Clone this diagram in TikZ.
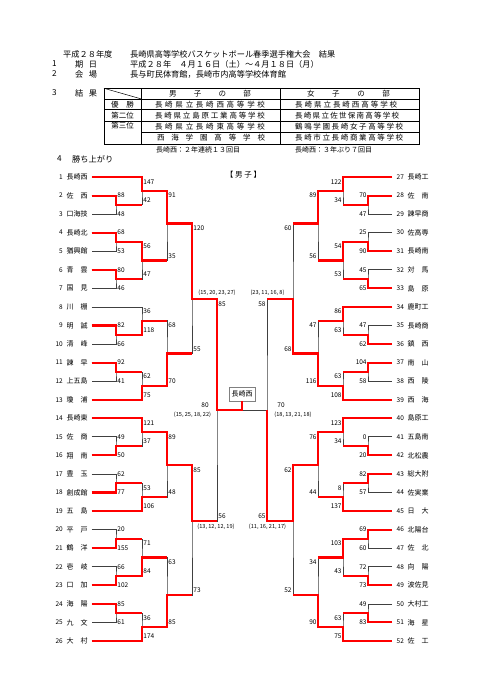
\documentclass[tikz,border=0pt]{standalone}
\usepackage{fontspec}
\setmainfont{Noto Sans CJK JP}
\usetikzlibrary{calc}
\usetikzlibrary{positioning}

% spread the characters of #2 over the width #1
\newcommand\spr[2]{\makebox[#1]{\sprA#2\relax}}
\def\sprA#1{#1\sprB}
\def\sprB#1{\ifx\relax#1\else\hfill#1\expandafter\sprB\fi}

% one game: anchor of scores, offset, upper entry, game point, lower entry, scores
\newcommand\bout[7]{%
  \draw[bracket] (#3) -| (#4) |- (#5);
  \node[score, anchor=#1] (#4-t) at ($(#4 |- #3)+(0,#2)$) {#6};
  \node[score, anchor=#1] (#4-b) at ($(#4 |- #5)-(0,#2)$) {#7};
}

\tikzset{
  bracket/.style={draw=black!75, line width=0.7pt},
  winner/.style={draw=red, line width=2.1pt},
  score/.style={font=\fontsize{6.5}{7}\selectfont, inner sep=1.2pt},
  quarter/.style={font=\fontsize{5.6}{6}\selectfont, inner sep=0pt},
  tname/.style={font=\fontsize{7}{8}\selectfont, inner sep=0pt, anchor=west},
  tnum/.style={font=\fontsize{6.5}{7}\selectfont, inner sep=0pt},
  head/.style={font=\fontsize{8.2}{9}\selectfont, inner sep=0pt, anchor=west},
  cell/.style={font=\fontsize{7.5}{8}\selectfont, inner sep=0pt},
  note/.style={font=\fontsize{7}{8}\selectfont, inner sep=0pt, anchor=west},
  tabthin/.style={draw=black, line width=0.5pt},
  tabthick/.style={draw=black, line width=0.9pt},
  champ/.style={draw=black!50, line width=0.6pt, fill=white, minimum width=26pt,
    minimum height=14pt, inner sep=0pt, font=\fontsize{7}{8}\selectfont},
}

\begin{document}
\begin{tikzpicture}[x=1pt, y=-1pt]
  \useasboundingbox (0,0) rectangle (481,680);

  % heading
  \node[head] (year)  at (63,54)  {平成２８年度};
  \node[head] (title) at (130,54) {長崎県高等学校バスケットボール春季選手権大会　結果};
  \node[head] (i1)  at (52,64) {1};
  \node[head] (i1t) at (75,64) {\spr{22pt}{期日}};
  \node[head] (date) at (130,64) {平成２８年　４月１６日（土）～４月１８日（月）};
  \node[head] (i2)  at (52,74) {2};
  \node[head] (i2t) at (75,74) {\spr{22pt}{会場}};
  \node[head] (venue) at (130,74) {長与町民体育館，長崎市内高等学校体育館};
  \node[head] (i3)  at (52,93) {3};
  \node[head] (i3t) at (75,93) {\spr{22pt}{結果}};

  % result table
  \draw[tabthin] (104,99) -- (419,99);
  \draw[tabthin] (104,109.5) -- (419,109.5);
  \draw[tabthin] (104,121) -- (419,121);
  \draw[tabthin] (141.5,132) -- (419,132);
  \draw[tabthin] (141.5,88.3) -- (141.5,144);
  \draw[tabthin] (104,88.3) -- (141.5,99);
  \draw[tabthick] (280,88.3) -- (280,144);
  \draw[tabthick] (104,88.3) rectangle (419,144);

  \node[cell] (hM) at (210,93.6)   {\spr{82pt}{男子の部}};
  \node[cell] (hW) at (348.5,93.6) {\spr{83pt}{女子の部}};
  \node[cell] (r1) at (122.5,104.3) {\spr{23pt}{優勝}};
  \node[cell] (r2) at (122.5,115.2) {第二位};
  \node[cell] (r3) at (122.5,126)   {第三位};
  \node[cell] (m1) at (210,104.3) {\spr{110pt}{長崎県立長崎西高等学校}};
  \node[cell] (m2) at (210,115.2) {\spr{110pt}{長崎県立島原工業高等学校}};
  \node[cell] (m3) at (210,126.5) {\spr{110pt}{長崎県立長崎東高等学校}};
  \node[cell] (m4) at (211,138)   {\spr{108pt}{西海学園高等学校}};
  \node[cell, anchor=west] (w1) at (295,104.3) {\spr{102pt}{長崎県立長崎西高等学校}};
  \node[cell, anchor=west] (w2) at (295,115.2) {\spr{104pt}{長崎県立佐世保南高等学校}};
  \node[cell, anchor=west] (w3) at (295,126.5) {\spr{108pt}{鶴鳴学園長崎女子高等学校}};
  \node[cell, anchor=west] (w4) at (295,138)   {\spr{108pt}{長崎市立長崎商業高等学校}};
  \node[note] (nM) at (156,149.5) {長崎西：２年連続１３回目};
  \node[note] (nW) at (295,149.5) {長崎西：３年ぶり７回目};

  \node[head] (i4)  at (57,159) {4};
  \node[head] (i4t) at (72,159) {勝ち上がり};
  \node[cell] (boys) at (243.5,175) {【 男 子 】};

  % teams
  \foreach \n/\t in {1/長崎西, 2/佐　西, 3/口海技, 4/長崎北, 5/猶興館, 6/青　雲,
      7/国　見, 8/川　棚, 9/明　誠, 10/清　峰, 11/諫　早, 12/上五島, 13/瓊　浦,
      14/長崎東, 15/佐　商, 16/翔　南, 17/豊　玉, 18/創成館, 19/五　島, 20/平　戸,
      21/鶴　洋, 22/壱　岐, 23/口　加, 24/海　陽, 25/九　文, 26/大　村} {
    \node[tnum, anchor=east] (n\n) at (63,{177+18.56*(\n-1)}) {\n};
    \node[tname] (t\n) at (66.5,{177+18.56*(\n-1)}) {\t};
    \coordinate (T\n) at (91.5,{177+18.56*(\n-1)});
  }
  \foreach \n/\t in {27/長崎工, 28/佐　南, 29/諫早商, 30/佐高専, 31/長崎南, 32/対　馬,
      33/島　原, 34/鹿町工, 35/長崎商, 36/鎮　西, 37/南　山, 38/西　陵, 39/西　海,
      40/島原工, 41/五島南, 42/北松農, 43/総大附, 44/佐実業, 45/日　大, 46/北陽台,
      47/佐　北, 48/向　陽, 49/波佐見, 50/大村工, 51/海　星, 52/佐　工} {
    \node[tnum, anchor=west] (n\n) at (396.5,{177+18.56*(\n-27)}) {\n};
    \node[tname] (t\n) at (407.5,{177+18.56*(\n-27)}) {\t};
    \coordinate (T\n) at (392,{177+18.56*(\n-27)});
  }

  % game points, left half
  \coordinate (a23)   at (116,204.84);
  \coordinate (a45)   at (116,241.96);
  \coordinate (a67)   at (116,279.08);
  \coordinate (a910)  at (116,334.76);
  \coordinate (a1112) at (116,371.88);
  \coordinate (a1516) at (116,446.12);
  \coordinate (a1718) at (116,483.24);
  \coordinate (a2021) at (116,538.92);
  \coordinate (a2223) at (116,576.04);
  \coordinate (a2425) at (116,613.16);
  \coordinate (b1)    at (142,190.92);
  \coordinate (b47)   at (142,260.52);
  \coordinate (b8)    at (142,320.84);
  \coordinate (b13)   at (142,385.80);
  \coordinate (b14)   at (142,432.20);
  \coordinate (b19)   at (142,497.16);
  \coordinate (b2023) at (142,557.48);
  \coordinate (b26)   at (142,627.08);
  \coordinate (cA)    at (167,223.5);
  \coordinate (c813)  at (167,353.5);
  \coordinate (c1419) at (167,465);
  \coordinate (c2026) at (167,595);
  \coordinate (dA)    at (192,299);
  \coordinate (dB)    at (192,521);
  \coordinate (sL)    at (217,410);

  % game points, right half
  \coordinate (ra2829) at (368,204.84);
  \coordinate (ra3031) at (368,241.96);
  \coordinate (ra3233) at (368,279.08);
  \coordinate (ra3536) at (368,334.76);
  \coordinate (ra3738) at (368,371.88);
  \coordinate (ra4142) at (368,446.12);
  \coordinate (ra4344) at (368,483.24);
  \coordinate (ra4647) at (368,538.92);
  \coordinate (ra4849) at (368,576.04);
  \coordinate (ra5051) at (368,613.16);
  \coordinate (rb27)   at (343,190.92);
  \coordinate (rb3133) at (343,260.52);
  \coordinate (rb34)   at (343,320.84);
  \coordinate (rb39)   at (343,385.80);
  \coordinate (rb40)   at (343,432.20);
  \coordinate (rb45)   at (343,497.16);
  \coordinate (rb4649) at (343,557.48);
  \coordinate (rb52)   at (343,627.08);
  \coordinate (rcA)    at (318,223.5);
  \coordinate (rc3439) at (318,353.5);
  \coordinate (rc4045) at (318,465);
  \coordinate (rc4652) at (318,595);
  \coordinate (rdA)    at (293,299);
  \coordinate (rdB)    at (293,521);
  \coordinate (sR)     at (267,410);
  \coordinate (ctr)    at (242,410);

  % left half
  \bout{west}{0}{T2}{a23}{T3}{88}{48}
  \bout{west}{0}{T4}{a45}{T5}{68}{53}
  \bout{west}{0}{T6}{a67}{T7}{80}{46}
  \bout{west}{0}{T9}{a910}{T10}{82}{66}
  \bout{west}{0}{T11}{a1112}{T12}{92}{41}
  \bout{west}{0}{T15}{a1516}{T16}{49}{50}
  \bout{west}{0}{T17}{a1718}{T18}{62}{77}
  \bout{west}{0}{T20}{a2021}{T21}{20}{155}
  \bout{west}{0}{T22}{a2223}{T23}{66}{102}
  \bout{west}{0}{T24}{a2425}{T25}{85}{61}
  \bout{west}{4.7}{T1}{b1}{a23}{147}{42}
  \bout{west}{4.7}{a45}{b47}{a67}{56}{47}
  \bout{west}{4.7}{T8}{b8}{a910}{36}{118}
  \bout{west}{4.7}{a1112}{b13}{T13}{62}{75}
  \bout{west}{4.7}{T14}{b14}{a1516}{121}{37}
  \bout{west}{4.7}{a1718}{b19}{T19}{53}{106}
  \bout{west}{4.7}{a2021}{b2023}{a2223}{71}{84}
  \bout{west}{4.7}{a2425}{b26}{T26}{36}{174}
  \bout{west}{4.7}{b1}{cA}{b47}{91}{35}
  \bout{west}{4.7}{b8}{c813}{b13}{68}{70}
  \bout{west}{4.7}{b14}{c1419}{b19}{89}{48}
  \bout{west}{4.7}{b2023}{c2026}{b26}{63}{85}
  \bout{west}{4.7}{cA}{dA}{c813}{120}{55}
  \bout{west}{4.7}{c1419}{dB}{c2026}{85}{73}
  \bout{west}{4.7}{dA}{sL}{dB}{85}{56}

  % right half
  \bout{east}{0}{T28}{ra2829}{T29}{70}{47}
  \bout{east}{0}{T30}{ra3031}{T31}{25}{90}
  \bout{east}{0}{T32}{ra3233}{T33}{45}{65}
  \bout{east}{0}{T35}{ra3536}{T36}{47}{62}
  \bout{east}{0}{T37}{ra3738}{T38}{104}{58}
  \bout{east}{0}{T41}{ra4142}{T42}{0}{20}
  \bout{east}{0}{T43}{ra4344}{T44}{82}{57}
  \bout{east}{0}{T46}{ra4647}{T47}{69}{60}
  \bout{east}{0}{T48}{ra4849}{T49}{72}{73}
  \bout{east}{0}{T50}{ra5051}{T51}{49}{83}
  \bout{east}{4.7}{T27}{rb27}{ra2829}{122}{34}
  \bout{east}{4.7}{ra3031}{rb3133}{ra3233}{54}{53}
  \bout{east}{4.7}{T34}{rb34}{ra3536}{86}{63}
  \bout{east}{4.7}{ra3738}{rb39}{T39}{63}{108}
  \bout{east}{4.7}{T40}{rb40}{ra4142}{123}{34}
  \bout{east}{4.7}{ra4344}{rb45}{T45}{8}{137}
  \bout{east}{4.7}{ra4647}{rb4649}{ra4849}{103}{43}
  \bout{east}{4.7}{ra5051}{rb52}{T52}{63}{75}
  \bout{east}{4.7}{rb27}{rcA}{rb3133}{89}{56}
  \bout{east}{4.7}{rb34}{rc3439}{rb39}{47}{116}
  \bout{east}{4.7}{rb40}{rc4045}{rb45}{76}{44}
  \bout{east}{4.7}{rb4649}{rc4652}{rb52}{34}{90}
  \bout{east}{4.7}{rcA}{rdA}{rc3439}{60}{68}
  \bout{east}{4.7}{rc4045}{rdB}{rc4652}{62}{52}
  \bout{east}{4.7}{rdA}{sR}{rdB}{58}{65}

  % final
  \draw[bracket] (sL) -- (sR);
  \node[champ] (champ) at (242,394) {長崎西};
  \node[quarter] (qL1) at (217,293)     {(15, 20, 23, 27)};
  \node[quarter] (qR1) at (267.5,293)   {(23, 11, 16, 8)};
  \node[quarter] (qL2) at (216,526.5)   {(13, 12, 12, 19)};
  \node[quarter] (qR2) at (267.5,526.5) {(11, 16, 21, 17)};
  \node[score] (fL)  at (205,405)     {80};
  \node[quarter] (fLq) at (192.5,414.5) {(15, 25, 18, 22)};
  \node[score] (fR)  at (281,405)     {70};
  \node[quarter] (fRq) at (293,414.5)   {(18, 13, 21, 18)};

  % winners, left
  \draw[winner] (T1) -| (b1) -| (cA) -| (dA) -| (sL) -- (ctr) -- (champ.south);
  \draw[winner] (T2) -| (a23) -- (a23 -| b1);
  \draw[winner] (T4) -| (a45) -| (b47) -- (b47 -| cA);
  \draw[winner] (T6) -| (a67) -- (a67 -| b47);
  \draw[winner] (T9) -| (a910) -| (b8) -- (b8 -| c813);
  \draw[winner] (T11) -| (a1112) -- (a1112 -| b13);
  \draw[winner] (T13) -| (b13) -| (c813) -- (c813 -| dA);
  \draw[winner] (T14) -| (b14) -| (c1419) -| (dB) -- (dB -| sL);
  \draw[winner] (T16) -| (a1516) -- (a1516 -| b14);
  \draw[winner] (T18) -| (a1718) -- (a1718 -| b19);
  \draw[winner] (T19) -| (b19) -- (b19 -| c1419);
  \draw[winner] (T21) -| (a2021) -- (a2021 -| b2023);
  \draw[winner] (T23) -| (a2223) -| (b2023) -- (b2023 -| c2026);
  \draw[winner] (T24) -| (a2425) -- (a2425 -| b26);
  \draw[winner] (T26) -| (b26) -| (c2026) -- (c2026 -| dB);

  % winners, right
  \draw[winner] (T27) -| (rb27) -| (rcA) -- (rcA -| rdA);
  \draw[winner] (T28) -| (ra2829) -- (ra2829 -| rb27);
  \draw[winner] (T31) -| (ra3031) -| (rb3133) -- (rb3133 -| rcA);
  \draw[winner] (T33) -| (ra3233) -- (ra3233 -| rb3133);
  \draw[winner] (T34) -| (rb34) -- (rb34 -| rc3439);
  \draw[winner] (T36) -| (ra3536) -- (ra3536 -| rb34);
  \draw[winner] (T37) -| (ra3738) -- (ra3738 -| rb39);
  \draw[winner] (T39) -| (rb39) -| (rc3439) -| (rdA) -- (rdA -| sR);
  \draw[winner] (T40) -| (rb40) -| (rc4045) -| (rdB) -| (sR);
  \draw[winner] (T42) -| (ra4142) -- (ra4142 -| rb40);
  \draw[winner] (T43) -| (ra4344) -- (ra4344 -| rb45);
  \draw[winner] (T45) -| (rb45) -- (rb45 -| rc4045);
  \draw[winner] (T46) -| (ra4647) -| (rb4649) -- (rb4649 -| rc4652);
  \draw[winner] (T49) -| (ra4849) -- (ra4849 -| rb4649);
  \draw[winner] (T51) -| (ra5051) -- (ra5051 -| rb52);
  \draw[winner] (T52) -| (rb52) -| (rc4652) -- (rc4652 -| rdB);
\end{tikzpicture}
\end{document}
